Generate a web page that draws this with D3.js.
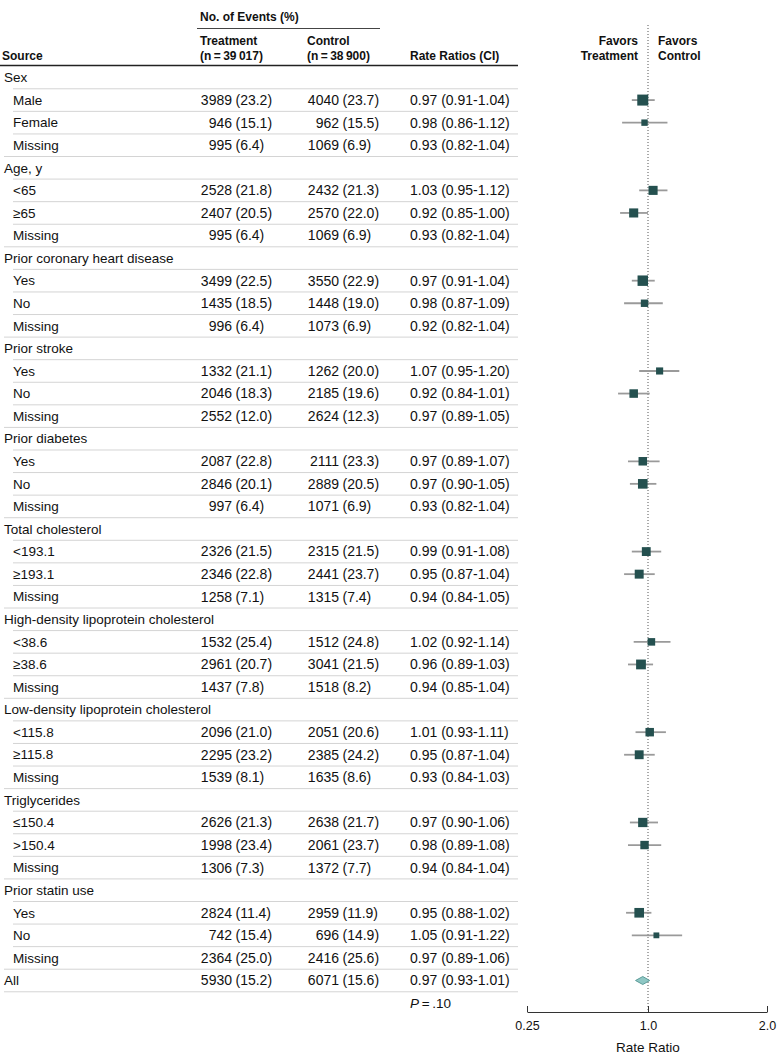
<!DOCTYPE html>
<html>
<head>
<meta charset="utf-8">
<script src="https://cdn.jsdelivr.net/npm/d3@7"></script>
<style>
  body { margin: 0; background: #fff; }
  svg text { font-family: "Liberation Sans", Arial, sans-serif; font-size: 13.5px; fill: #111; }
  svg text.hdr { font-weight: bold; font-size: 12px; }
  svg text.num { font-size: 14px; }
</style>
</head>
<body>
<div id="chart"></div>
<script>
const labels = ['Sex', 'Male', 'Female', 'Missing',
    'Age, y', '<65', '\u226565', 'Missing',
    'Prior coronary heart disease', 'Yes', 'No', 'Missing',
    'Prior stroke', 'Yes', 'No', 'Missing',
    'Prior diabetes', 'Yes', 'No', 'Missing',
    'Total cholesterol', '<193.1', '\u2265193.1', 'Missing',
    'High-density lipoprotein cholesterol', '<38.6', '\u226538.6', 'Missing',
    'Low-density lipoprotein cholesterol', '<115.8', '\u2265115.8', 'Missing',
    'Triglycerides', '\u2264150.4', '>150.4', 'Missing',
    'Prior statin use', 'Yes', 'No', 'Missing',
    'All'];
// g = group header, s = subgroup with marker, m = subgroup without marker, a = overall
const rowType = ['g', 's', 's', 'm', 'g', 's', 's', 'm', 'g', 's', 's', 'm', 'g', 's', 's', 'm',
    'g', 's', 's', 'm', 'g', 's', 's', 'm', 'g', 's', 's', 'm', 'g', 's', 's', 'm',
    'g', 's', 's', 'm', 'g', 's', 's', 'm', 'a'];
const trtEvents = [null, 3989, 946, 995, null, 2528, 2407, 995, null, 3499, 1435, 996, null, 1332, 2046, 2552,
    null, 2087, 2846, 997, null, 2326, 2346, 1258, null, 1532, 2961, 1437, null, 2096, 2295, 1539,
    null, 2626, 1998, 1306, null, 2824, 742, 2364, 5930];
const trtPct = [null, 23.2, 15.1, 6.4, null, 21.8, 20.5, 6.4, null, 22.5, 18.5, 6.4, null, 21.1, 18.3, 12.0,
    null, 22.8, 20.1, 6.4, null, 21.5, 22.8, 7.1, null, 25.4, 20.7, 7.8, null, 21.0, 23.2, 8.1,
    null, 21.3, 23.4, 7.3, null, 11.4, 15.4, 25.0, 15.2];
const ctlEvents = [null, 4040, 962, 1069, null, 2432, 2570, 1069, null, 3550, 1448, 1073, null, 1262, 2185, 2624,
    null, 2111, 2889, 1071, null, 2315, 2441, 1315, null, 1512, 3041, 1518, null, 2051, 2385, 1635,
    null, 2638, 2061, 1372, null, 2959, 696, 2416, 6071];
const ctlPct = [null, 23.7, 15.5, 6.9, null, 21.3, 22.0, 6.9, null, 22.9, 19.0, 6.9, null, 20.0, 19.6, 12.3,
    null, 23.3, 20.5, 6.9, null, 21.5, 23.7, 7.4, null, 24.8, 21.5, 8.2, null, 20.6, 24.2, 8.6,
    null, 21.7, 23.7, 7.7, null, 11.9, 14.9, 25.6, 15.6];
const rr = [null, 0.97, 0.98, 0.93, null, 1.03, 0.92, 0.93, null, 0.97, 0.98, 0.92, null, 1.07, 0.92, 0.97,
    null, 0.97, 0.97, 0.93, null, 0.99, 0.95, 0.94, null, 1.02, 0.96, 0.94, null, 1.01, 0.95, 0.93,
    null, 0.97, 0.98, 0.94, null, 0.95, 1.05, 0.97, 0.97];
const rrLow = [null, 0.91, 0.86, 0.82, null, 0.95, 0.85, 0.82, null, 0.91, 0.87, 0.82, null, 0.95, 0.84, 0.89,
    null, 0.89, 0.90, 0.82, null, 0.91, 0.87, 0.84, null, 0.92, 0.89, 0.85, null, 0.93, 0.87, 0.84,
    null, 0.90, 0.89, 0.84, null, 0.88, 0.91, 0.89, 0.93];
const rrHigh = [null, 1.04, 1.12, 1.04, null, 1.12, 1.00, 1.04, null, 1.04, 1.09, 1.04, null, 1.20, 1.01, 1.05,
    null, 1.07, 1.05, 1.04, null, 1.08, 1.04, 1.05, null, 1.14, 1.03, 1.04, null, 1.11, 1.04, 1.03,
    null, 1.06, 1.08, 1.04, null, 1.02, 1.22, 1.06, 1.01];
const axisTicks = [0.25, 1, 2];
const tickLabels = ['0.25', '1.0', '2.0'];

const [svgWidth, svgHeight] = [780, 1059];
const col = { source: 4, sub: 13, trtNum: 232, trtPct: 235.5, ctlNum: 339, ctlPct: 342.5, ci: 410, lineEnd: 518 };

const rows = labels.map((label, i) => ({
    label: label, type: rowType[i],
    trtN: trtEvents[i], trtP: trtPct[i], ctlN: ctlEvents[i], ctlP: ctlPct[i],
    rr: rr[i], lo: rrLow[i], hi: rrHigh[i], i: i
}));

const svg = d3.select('#chart').append('svg')
    .attr('width', svgWidth)
    .attr('height', svgHeight);

const y = d3.scalePoint()
    .domain(d3.range(rows.length))
    .range([77.5, 980.5]);
const rowStep = y.step();

// log scale, broken below 0.8 so that 0.25 sits near the left end
const axisBreak = 0.8;
const xLeft = 527, xOne = 648, xRight = 767;
const x = d3.scaleLog()
    .domain([0.25, axisBreak, 2])
    .range([xLeft, xOne + (xRight - xOne) * Math.log2(axisBreak), xRight]);

const sizeScale = d3.scaleSqrt()
    .domain([0, d3.max(rows.filter(d => d.type === 's'), d => d.trtN + d.ctlN)])
    .range([2, 11]);

function fmt(v) { return v.toFixed(2); }

// header
const head = svg.append('g');
head.append('text').attr('class', 'hdr').attr('x', 200).attr('y', 21).text('No. of Events (%)');
head.append('line').attr('x1', 197).attr('x2', 380).attr('y1', 28.5).attr('y2', 28.5)
    .style('stroke', '#444').style('stroke-width', 1);
head.append('text').attr('class', 'hdr').attr('x', 200).attr('y', 45).text('Treatment');
head.append('text').attr('class', 'hdr').attr('x', 200).attr('y', 60).text('(n\u2009=\u200939\u2009017)');
head.append('text').attr('class', 'hdr').attr('x', 307).attr('y', 45).text('Control');
head.append('text').attr('class', 'hdr').attr('x', 307).attr('y', 60).text('(n\u2009=\u200938\u2009900)');
head.append('text').attr('class', 'hdr').attr('x', 2).attr('y', 60).text('Source');
head.append('text').attr('class', 'hdr').attr('x', col.ci).attr('y', 60).text('Rate Ratios (CI)');
head.append('line').attr('x1', 0).attr('x2', col.lineEnd).attr('y1', 65.5).attr('y2', 65.5)
    .style('stroke', '#222').style('stroke-width', 1.5);

head.append('text').attr('class', 'hdr').attr('x', x(1) - 10).attr('y', 45).attr('text-anchor', 'end').text('Favors');
head.append('text').attr('class', 'hdr').attr('x', x(1) - 10).attr('y', 60).attr('text-anchor', 'end').text('Treatment');
head.append('text').attr('class', 'hdr').attr('x', x(1) + 10).attr('y', 45).text('Favors');
head.append('text').attr('class', 'hdr').attr('x', x(1) + 10).attr('y', 60).text('Control');

// table rows
const table = svg.append('g');
const row = table.selectAll('.row')
    .data(rows)
    .enter().append('g')
    .attr('class', 'row')
    .attr('transform', d => 'translate(0,' + y(d.i) + ')');

row.append('line')
    .attr('x1', d => (d.type === 'm' || d.type === 'a') ? col.source : col.sub)
    .attr('x2', col.lineEnd)
    .attr('y1', rowStep / 2).attr('y2', rowStep / 2)
    .style('stroke', '#d4d4d4').style('stroke-width', 1);

row.append('text')
    .attr('x', d => (d.type === 'g' || d.type === 'a') ? col.source : col.sub)
    .attr('dy', '0.35em')
    .text(d => d.label);

const vals = row.filter(d => d.type !== 'g');
vals.append('text').attr('class', 'num').attr('x', col.trtNum).attr('dy', '0.35em').attr('text-anchor', 'end').text(d => d.trtN);
vals.append('text').attr('class', 'num').attr('x', col.trtPct).attr('dy', '0.35em').text(d => '(' + d.trtP.toFixed(1) + ')');
vals.append('text').attr('class', 'num').attr('x', col.ctlNum).attr('dy', '0.35em').attr('text-anchor', 'end').text(d => d.ctlN);
vals.append('text').attr('class', 'num').attr('x', col.ctlPct).attr('dy', '0.35em').text(d => '(' + d.ctlP.toFixed(1) + ')');
vals.append('text').attr('class', 'num').attr('x', col.ci).attr('dy', '0.35em')
    .text(d => fmt(d.rr) + ' (' + fmt(d.lo) + '-' + fmt(d.hi) + ')');

svg.append('text')
    .attr('x', col.ci).attr('y', y(rows.length - 1) + rowStep + 5)
    .html('<tspan font-style="italic">P</tspan>\u2009=\u2009.10');

// reference line at 1.0
svg.append('line')
    .attr('x1', x(1)).attr('x2', x(1))
    .attr('y1', 25).attr('y2', 1012)
    .style('stroke', '#555').style('stroke-width', 1)
    .style('stroke-dasharray', '1,2');

// CI and markers
const plot = svg.append('g');
const marked = rows.filter(d => d.type === 's');
plot.selectAll('.ci')
    .data(marked)
    .enter().append('line')
    .attr('class', 'ci')
    .attr('x1', d => x(d.lo)).attr('x2', d => x(d.hi))
    .attr('y1', d => y(d.i)).attr('y2', d => y(d.i))
    .style('stroke', '#9a9a9a').style('stroke-width', 1.8);

plot.selectAll('.box')
    .data(marked)
    .enter().append('rect')
    .attr('class', 'box')
    .attr('x', d => x(d.rr) - sizeScale(d.trtN + d.ctlN) / 2)
    .attr('y', d => y(d.i) - sizeScale(d.trtN + d.ctlN) / 2)
    .attr('width', d => sizeScale(d.trtN + d.ctlN))
    .attr('height', d => sizeScale(d.trtN + d.ctlN))
    .style('fill', '#24504f');

const overall = rows.filter(d => d.type === 'a');
plot.selectAll('.diamond')
    .data(overall)
    .enter().append('path')
    .attr('class', 'diamond')
    .attr('d', d => {
        const cy = y(d.i);
        return 'M' + x(d.lo) + ',' + cy + 'L' + x(d.rr) + ',' + (cy - 4) +
            'L' + x(d.hi) + ',' + cy + 'L' + x(d.rr) + ',' + (cy + 4) + 'Z';
    })
    .style('fill', '#8fc7c4').style('stroke', '#5c9c99').style('stroke-width', 1);

// axis
const axis = d3.axisBottom(x)
    .tickValues(axisTicks)
    .tickFormat((d, i) => tickLabels[i])
    .tickSizeInner(-6)
    .tickSizeOuter(0)
    .tickPadding(9);
const axisG = svg.append('g')
    .attr('transform', 'translate(0,1012)')
    .call(axis);
axisG.selectAll('path, line').style('stroke', '#333');
axisG.selectAll('text').style('font-size', '12.5px').style('font-family', '"Liberation Sans", Arial, sans-serif').style('fill', '#111');

svg.append('text')
    .attr('x', x(1)).attr('y', 1052)
    .attr('text-anchor', 'middle')
    .text('Rate Ratio');
</script>
</body>
</html>
